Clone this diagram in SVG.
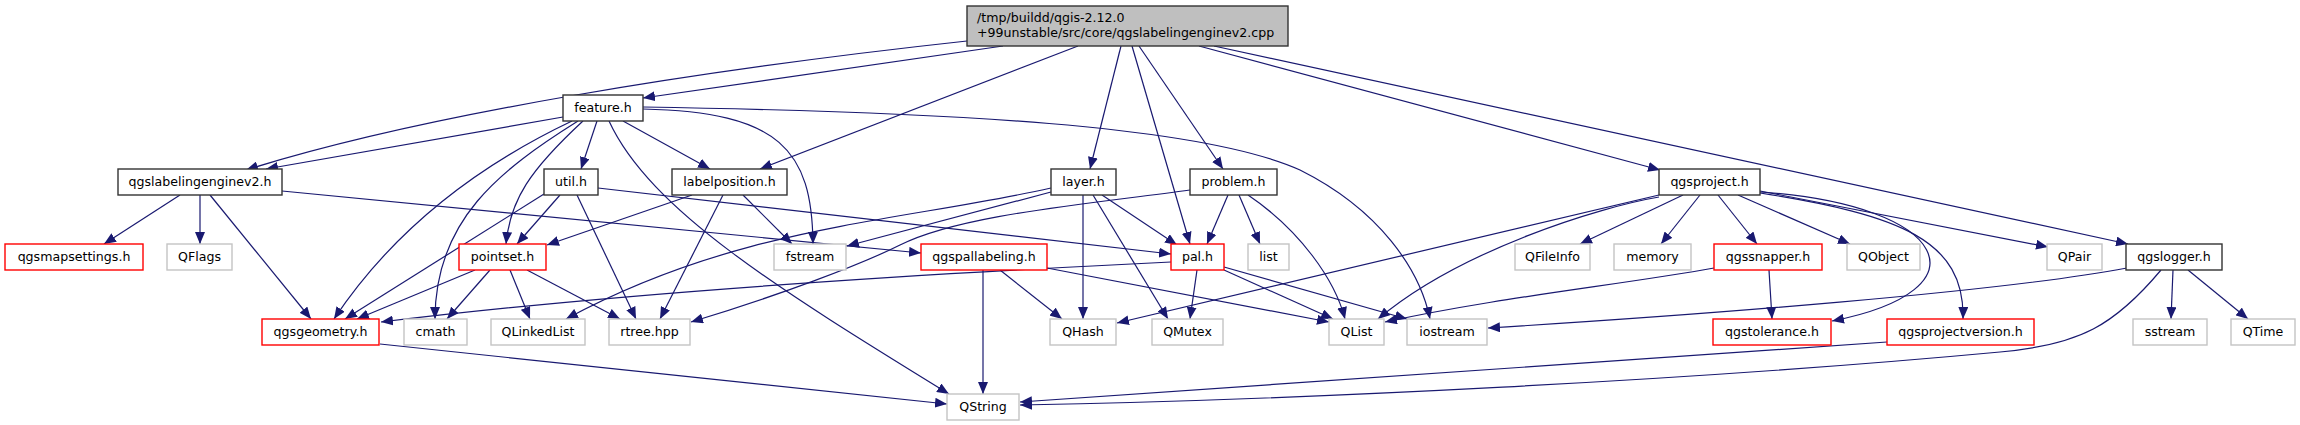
<svg xmlns="http://www.w3.org/2000/svg" width="2300" height="425" viewBox="0 0 2300 425">
<style>
text{font-family:"DejaVu Sans","Liberation Sans",sans-serif;font-size:12.6px;fill:#000}
.n text{text-anchor:middle}
.b rect{fill:#fff;stroke:#333;stroke-width:1.4}
.r rect{fill:#fff;stroke:#ff0000;stroke-width:1.4}
.g rect{fill:#fff;stroke:#c4c4c4;stroke-width:1.4}
.m rect{fill:#bfbfbf;stroke:#333;stroke-width:1.4}
#edges path{fill:none;stroke:#191970;stroke-width:1.2;marker-end:url(#arr)}
</style>
<defs>
<marker id="arr" markerUnits="userSpaceOnUse" markerWidth="12" markerHeight="10" refX="12" refY="5" orient="auto"><path d="M0,0 L12,5 L0,10 z" fill="#191970" stroke="none"/></marker>
</defs>
<rect width="2300" height="425" fill="#fff"/>
<g id="edges">
<path d="M967,41 C700,70 420,115 246,170"/>
<path d="M1003,46 L643,98"/>
<path d="M1078,46 L760,169"/>
<path d="M1121,46 L1090,169"/>
<path d="M1132,46 L1190,244"/>
<path d="M1139,46 L1223,169"/>
<path d="M1199,46 L1660,170"/>
<path d="M1214,46 L2128,244"/>
<path d="M563,117 L266,169"/>
<path d="M597,121 L581,169"/>
<path d="M623,121 L710,169"/>
<path d="M643,109 C780,112 812,150 813,244"/>
<path d="M643,107 C950,112 1200,125 1300,170 C1380,210 1420,270 1430,319"/>
<path d="M609,121 C650,210 780,290 949,394"/>
<path d="M572,121 C490,160 400,220 334,319"/>
<path d="M578,121 C500,170 435,220 435,319"/>
<path d="M583,121 C530,170 510,200 506,244"/>
<path d="M180,195 L104,244"/>
<path d="M200,195 L200,244"/>
<path d="M210,195 L311,319"/>
<path d="M282,191 L921,253"/>
<path d="M544,194 L345,319"/>
<path d="M560,195 L517,244"/>
<path d="M577,195 L636,319"/>
<path d="M598,188 L1171,254"/>
<path d="M692,195 L547,245"/>
<path d="M723,195 L660,319"/>
<path d="M743,195 L792,244"/>
<path d="M1051,192 L847,246"/>
<path d="M1051,188 C900,222 740,225 566,319"/>
<path d="M1083,195 L1083,319"/>
<path d="M1093,195 L1168,319"/>
<path d="M1102,195 L1177,245"/>
<path d="M1190,190 C1080,205 960,215 900,245 C860,265 780,295 691,322"/>
<path d="M1228,195 L1207,244"/>
<path d="M1239,195 L1260,244"/>
<path d="M1248,195 C1300,230 1335,280 1345,319"/>
<path d="M1659,195 L1117,323"/>
<path d="M1659,197 C1600,207 1460,250 1378,319"/>
<path d="M1683,195 L1580,244"/>
<path d="M1700,195 L1661,244"/>
<path d="M1718,195 L1757,244"/>
<path d="M1738,195 L1850,244"/>
<path d="M1760,191 L2048,247"/>
<path d="M1760,192 C1950,205 1990,290 1832,321"/>
<path d="M1760,193 C1900,215 1965,240 1963,319"/>
<path d="M1171,262 C900,275 600,295 381,322"/>
<path d="M1197,270 L1190,319"/>
<path d="M1224,270 L1333,319"/>
<path d="M1224,267 L1407,319"/>
<path d="M1000,270 L1062,319"/>
<path d="M1047,268 L1329,322"/>
<path d="M983,270 L983,394"/>
<path d="M475,270 L357,319"/>
<path d="M490,270 L447,319"/>
<path d="M510,270 L530,319"/>
<path d="M527,270 L620,319"/>
<path d="M1769,270 L1772,319"/>
<path d="M1714,268 C1620,285 1500,297 1385,322"/>
<path d="M2127,268 C2000,292 1700,315 1488,328"/>
<path d="M2161,270 C2115,325 2080,345 2000,352 C1700,380 1300,400 1020,405"/>
<path d="M2173,270 L2171,319"/>
<path d="M2188,270 L2248,319"/>
<path d="M380,344 L947,404"/>
<path d="M1887,342 L1020,402"/>
</g>
<g id="main" class="m"><rect x="967" y="6" width="321" height="40"/><text x="977" y="21.5">/tmp/buildd/qgis-2.12.0</text><text x="977" y="37">+99unstable/src/core/qgslabelingenginev2.cpp</text></g>
<g id="feature" class="n b"><rect x="563" y="95" width="80" height="26"/><text x="603" y="112">feature.h</text></g>
<g id="qgslabelingenginev2" class="n b"><rect x="118" y="169" width="164" height="26"/><text x="200" y="186">qgslabelingenginev2.h</text></g>
<g id="util" class="n b"><rect x="544" y="169" width="54" height="26"/><text x="571" y="186">util.h</text></g>
<g id="labelposition" class="n b"><rect x="672" y="169" width="115" height="26"/><text x="729.5" y="186">labelposition.h</text></g>
<g id="layer" class="n b"><rect x="1051" y="169" width="65" height="26"/><text x="1083.5" y="186">layer.h</text></g>
<g id="problem" class="n b"><rect x="1190" y="169" width="87" height="26"/><text x="1233.5" y="186">problem.h</text></g>
<g id="qgsproject" class="n b"><rect x="1659" y="169" width="101" height="26"/><text x="1709.5" y="186">qgsproject.h</text></g>
<g id="qgsmapsettings" class="n r"><rect x="5" y="244" width="138" height="26"/><text x="74" y="261">qgsmapsettings.h</text></g>
<g id="QFlags" class="n g"><rect x="167" y="244" width="65" height="26"/><text x="199.5" y="261">QFlags</text></g>
<g id="pointset" class="n r"><rect x="459" y="244" width="87" height="26"/><text x="502.5" y="261">pointset.h</text></g>
<g id="fstream" class="n g"><rect x="774" y="244" width="72" height="26"/><text x="810" y="261">fstream</text></g>
<g id="qgspallabeling" class="n r"><rect x="921" y="244" width="126" height="26"/><text x="984" y="261">qgspallabeling.h</text></g>
<g id="pal" class="n r"><rect x="1171" y="244" width="53" height="26"/><text x="1197.5" y="261">pal.h</text></g>
<g id="list" class="n g"><rect x="1248" y="244" width="41" height="26"/><text x="1268.5" y="261">list</text></g>
<g id="QFileInfo" class="n g"><rect x="1515" y="244" width="75" height="26"/><text x="1552.5" y="261">QFileInfo</text></g>
<g id="memory" class="n g"><rect x="1614" y="244" width="77" height="26"/><text x="1652.5" y="261">memory</text></g>
<g id="qgssnapper" class="n r"><rect x="1714" y="244" width="108" height="26"/><text x="1768" y="261">qgssnapper.h</text></g>
<g id="QObject" class="n g"><rect x="1847" y="244" width="73" height="26"/><text x="1883.5" y="261">QObject</text></g>
<g id="QPair" class="n g"><rect x="2047" y="244" width="55" height="26"/><text x="2074.5" y="261">QPair</text></g>
<g id="qgslogger" class="n b"><rect x="2126" y="244" width="96" height="26"/><text x="2174" y="261">qgslogger.h</text></g>
<g id="qgsgeometry" class="n r"><rect x="262" y="319" width="117" height="26"/><text x="320.5" y="336">qgsgeometry.h</text></g>
<g id="cmath" class="n g"><rect x="404" y="319" width="63" height="26"/><text x="435.5" y="336">cmath</text></g>
<g id="QLinkedList" class="n g"><rect x="491" y="319" width="94" height="26"/><text x="538" y="336">QLinkedList</text></g>
<g id="rtree" class="n g"><rect x="609" y="319" width="81" height="26"/><text x="649.5" y="336">rtree.hpp</text></g>
<g id="QHash" class="n g"><rect x="1050" y="319" width="66" height="26"/><text x="1083" y="336">QHash</text></g>
<g id="QMutex" class="n g"><rect x="1152" y="319" width="71" height="26"/><text x="1187.5" y="336">QMutex</text></g>
<g id="QList" class="n g"><rect x="1329" y="319" width="55" height="26"/><text x="1356.5" y="336">QList</text></g>
<g id="iostream" class="n g"><rect x="1407" y="319" width="80" height="26"/><text x="1447" y="336">iostream</text></g>
<g id="qgstolerance" class="n r"><rect x="1713" y="319" width="118" height="26"/><text x="1772" y="336">qgstolerance.h</text></g>
<g id="qgsprojectversion" class="n r"><rect x="1887" y="319" width="147" height="26"/><text x="1960.5" y="336">qgsprojectversion.h</text></g>
<g id="sstream" class="n g"><rect x="2133" y="319" width="74" height="26"/><text x="2170" y="336">sstream</text></g>
<g id="QTime" class="n g"><rect x="2231" y="319" width="64" height="26"/><text x="2263" y="336">QTime</text></g>
<g id="QString" class="n g"><rect x="947" y="394" width="72" height="26"/><text x="983" y="411">QString</text></g>
</svg>
